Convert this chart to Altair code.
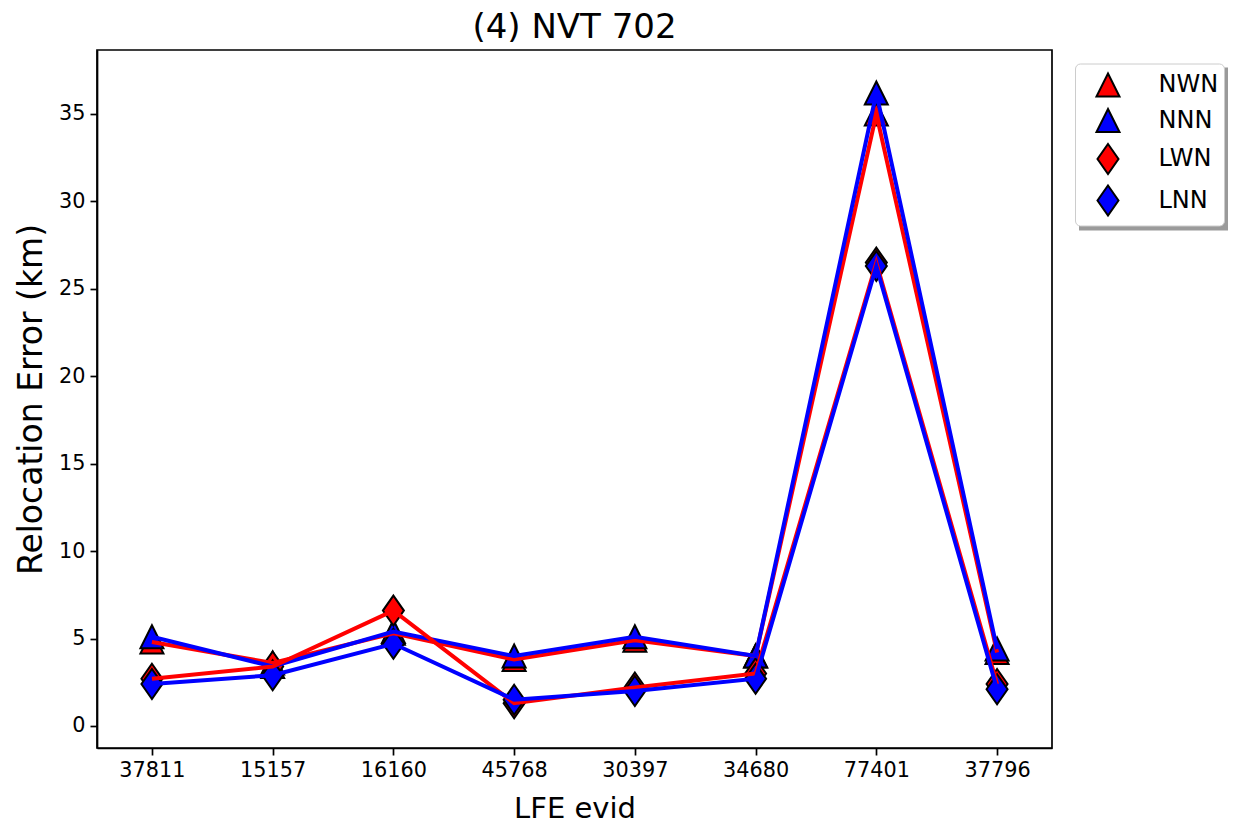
import altair as alt
import pandas as pd

# LFE event ids along the x axis
evids = ["37811", "15157", "16160", "45768", "30397", "34680", "77401", "37796"]

# Relocation error (km) per configuration
series_names = ["NWN", "NNN", "LWN", "LNN"]
nwn = [4.8, 3.6, 5.3, 3.8, 4.9, 4.0, 35.0, 4.2]
nnn = [5.1, 3.4, 5.4, 4.0, 5.1, 4.0, 36.2, 4.4]
lwn = [2.7, 3.4, 6.6, 1.3, 2.2, 3.0, 26.5, 2.4]
lnn = [2.4, 2.9, 4.7, 1.5, 2.0, 2.7, 26.3, 2.1]

series_colors = ["#ff0000", "#0000ff", "#ff0000", "#0000ff"]
# custom marker paths: upward triangle and thin diamond
TRI = "M0,-0.767L0.767,0.767L-0.767,0.767Z"
DIA = "M0,-1L0.7,0L0,1L-0.7,0Z"
series_shapes = [TRI, TRI, DIA, DIA]

y_ticks = [0, 5, 10, 15, 20, 25, 30, 35]

rows = []
for name, vals in zip(series_names, [nwn, nnn, lwn, lnn]):
    for e, v in zip(evids, vals):
        rows.append({"evid": e, "series": name, "err": v})
df = pd.DataFrame(rows)

FONT = "DejaVu Sans"

x_enc = alt.X(
    "evid:N",
    sort=evids,
    scale=alt.Scale(type="point", padding=0.455),
    axis=alt.Axis(title="LFE evid", labelAngle=0),
)
y_enc = alt.Y(
    "err:Q",
    scale=alt.Scale(domain=[-1.26, 38.66], nice=False, zero=False),
    axis=alt.Axis(title="Relocation Error (km)", values=y_ticks),
)

points = alt.Chart(df).mark_point(
    filled=True, stroke="black", strokeWidth=2, opacity=1, size=900
).encode(
    x=x_enc,
    y=y_enc,
    color=alt.Color(
        "series:N",
        scale=alt.Scale(domain=series_names, range=series_colors),
        legend=alt.Legend(title=None),
    ),
    shape=alt.Shape(
        "series:N",
        scale=alt.Scale(domain=series_names, range=series_shapes),
        legend=alt.Legend(title=None),
    ),
)

line_layers = [
    alt.Chart(df)
    .transform_filter(alt.datum.series == name)
    .mark_line(color=col, strokeWidth=4)
    .encode(x=x_enc, y=y_enc)
    for name, col in zip(series_names, series_colors)
]

# drop shadow behind the legend box
shadow = alt.Chart(pd.DataFrame({"k": [0]})).mark_rect(color="#9a9a9a").encode(
    x=alt.value(982), x2=alt.value(1131), y=alt.value(17.5), y2=alt.value(180.5)
)

chart = alt.layer(shadow, points, *line_layers).properties(
    width=955,
    height=698,
    padding={"left": 97, "top": 50, "right": 183, "bottom": 78},
    autosize=alt.AutoSizeParams(type="none"),
    title=alt.TitleParams(
        "(4) NVT 702", fontSize=34, font=FONT, fontWeight="normal",
        color="black", offset=5, anchor="middle",
    ),
).configure_view(
    stroke="black", strokeWidth=1.7
).configure_axis(
    labelFont=FONT, labelFontSize=20.8, labelColor="black",
    titleFont=FONT, titleFontSize=29, titleFontWeight="normal", titleColor="black",
    grid=False, domainColor="black", domainWidth=1.7,
    tickColor="black", tickWidth=1.7, tickSize=7, labelPadding=5,
).configure_axisX(
    titlePadding=15
).configure_axisY(
    titlePadding=10, titleFontSize=33
).configure_legend(
    orient="none", legendX=978, legendY=13.5, padding=5.5,
    fillColor="white", strokeColor="#cccccc", cornerRadius=5,
    symbolSize=900, symbolStrokeColor="black", symbolStrokeWidth=2,
    symbolOffset=11.5,
    labelFont=FONT, labelFontSize=24, labelColor="black",
    labelOffset=34.5, rowPadding=3.5,
)

chart.save("out.html", embed_options={"renderer": "svg", "actions": False})
